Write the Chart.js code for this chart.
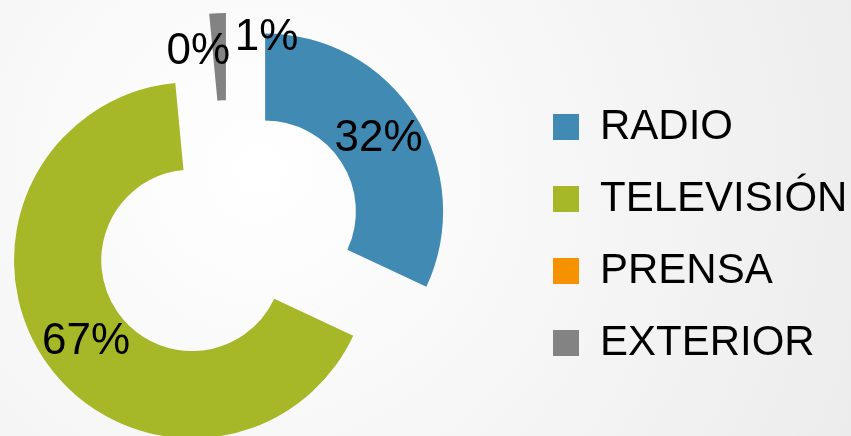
<!DOCTYPE html>
<html>
<head>
<meta charset="utf-8">
<script src="https://cdn.jsdelivr.net/npm/chart.js@4/dist/chart.umd.min.js"></script>
<style>
  html, body { margin: 0; padding: 0; }
  body {
    width: 851px; height: 436px; overflow: hidden;
    background: radial-gradient(circle at 260px 170px, #ffffff 0%, #f8f8f8 40%, #ececec 100%);
  }
  /* 画布向左多出 67px，让圆环中心落在 x≈228 */
  #wrap { position: relative; width: 918px; height: 436px; margin-left: -67px; }
</style>
</head>
<body>
<div id="wrap"><canvas id="chart"></canvas></div>
<script>
// ==================== 数据 ====================

const CATEGORIES = ["RADIO", "TELEVISIÓN", "PRENSA", "EXTERIOR"];
const SHARES = [32, 66.6, 0, 1.5];
const COLORS = ["#418AB3", "#A6B727", "#F69200", "#838383"];

// ==================== 样式 ====================

const FONT = "'Liberation Sans', Arial, sans-serif";
const EXPLODE = 44;          // 每块扇区沿中线外移的像素
const LABEL_NUDGE = [[0, 0], [4, 4], [-13, -6], [47, -19]];

const total = SHARES.reduce((a, b) => a + b, 0);

function midAngle(arc) {
  return (arc.startAngle + arc.endAngle) / 2;
}

/** 分离式圆环：每个扇区按统一距离平移后再用自身的 draw 绘制 */
const explodeArcs = {
  id: "explodeArcs",
  beforeDatasetDraw(chart, args) {
    const { ctx } = chart;
    for (const arc of args.meta.data) {
      const mid = midAngle(arc);
      ctx.save();
      ctx.translate(Math.cos(mid) * EXPLODE, Math.sin(mid) * EXPLODE);
      arc.draw(ctx, chart.chartArea);
      ctx.restore();
    }
    return false;
  },
};

/** 百分比标签 */
const pctLabels = {
  id: "pctLabels",
  afterDatasetsDraw(chart) {
    const { ctx } = chart;
    const meta = chart.getDatasetMeta(0);
    ctx.save();
    ctx.font = `44px ${FONT}`;
    ctx.fillStyle = "#000";
    ctx.textAlign = "center";
    ctx.textBaseline = "middle";
    meta.data.forEach((arc, i) => {
      const mid = midAngle(arc);
      const r = (arc.innerRadius + arc.outerRadius) / 2 + EXPLODE;
      const nudge = LABEL_NUDGE[i] || [0, 0];
      const text = Math.round(SHARES[i] / total * 100) + "%";
      ctx.fillText(text, arc.x + Math.cos(mid) * r + nudge[0], arc.y + Math.sin(mid) * r + nudge[1]);
    });
    ctx.restore();
  },
};

new Chart(document.getElementById("chart"), {
  type: "doughnut",
  data: {
    labels: CATEGORIES,
    datasets: [{
      data: SHARES,
      backgroundColor: COLORS,
      borderWidth: 0,
      radius: 178,
      cutout: "51%",
      hoverOffset: 0,
    }],
  },
  options: {
    responsive: true,
    maintainAspectRatio: false,
    animation: false,
    events: [],
    layout: { padding: { left: 0, top: 34, right: 0, bottom: 0 } },
    plugins: {
      tooltip: { enabled: false },
      legend: {
        position: "right",
        maxWidth: 328,
        labels: {
          color: "#000",
          font: { family: FONT, size: 42 },
          boxWidth: 26,
          boxHeight: 26,
          padding: 30,
        },
      },
    },
  },
  plugins: [explodeArcs, pctLabels],
});
</script>
</body>
</html>
